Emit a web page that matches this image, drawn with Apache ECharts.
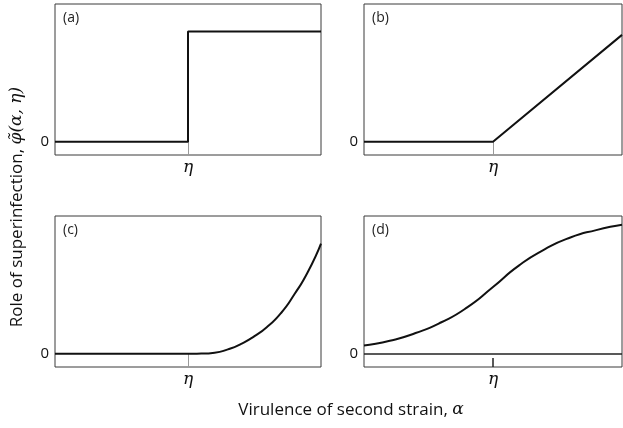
<!DOCTYPE html>
<html>
<head>
<meta charset="utf-8">
<script src="https://cdn.jsdelivr.net/npm/echarts@6/dist/echarts.min.js"></script>
<style>
html, body { margin: 0; padding: 0; background: #fff; }
#chart { width: 623px; height: 428px; }
</style>
</head>
<body>
<div id="chart"></div>
<script>
// curves, x in [0,1] with eta at 0.5, y in units of the step height
var etaValue = 0.5;
var panelA = [[0, 0], [0.5, 0], [0.5, 1.0], [1, 1.0]];
var panelB = [[0, 0], [0.5, 0], [1, 0.97]];
var panelC = [[0, 0], [0.5, 0], [0.55, 0.002], [0.6, 0.01], [0.65, 0.04], [0.7, 0.09], [0.75, 0.16],
	[0.8, 0.25], [0.85, 0.37], [0.9, 0.54], [0.95, 0.74], [1, 1.0]];
var panelD = [[0, 0.075], [0.1, 0.118], [0.2, 0.188], [0.3, 0.286], [0.4, 0.421], [0.5, 0.606],
	[0.6, 0.8], [0.7, 0.947], [0.8, 1.055], [0.9, 1.122], [1, 1.17]];
var panelNames = ['(a)', '(b)', '(c)', '(d)'];
var xTickLabel = 'η';
var yTickLabel = '0';
var yTitle = 'Role of superinfection, ';
var xTitle = 'Virulence of second strain, ';

var myChart = echarts.init(document.getElementById('chart'));

var grids = [
	{ left: 55, top: 4, width: 266, height: 151 },
	{ left: 364, top: 4, width: 258, height: 151 },
	{ left: 55, top: 216, width: 266, height: 151 },
	{ left: 364, top: 216, width: 258, height: 151 }
];
var curves = [panelA, panelB, panelC, panelD];

var option = {
	backgroundColor: '#fff',
	animation: false,
	grid: [],
	xAxis: [],
	yAxis: [],
	series: [],
	graphic: []
};

grids.forEach(function (g, i) {
	option.grid.push({
		left: g.left, top: g.top, width: g.width, height: g.height,
		show: true, borderColor: '#3a3a3a', borderWidth: 1
	});
	option.xAxis.push({
		type: 'value', gridIndex: i, min: 0, max: 1,
		axisLine: { show: false, onZero: false },
		splitLine: { show: false },
		axisTick: {
			show: true, inside: true, customValues: [etaValue],
			length: i === 3 ? 9 : 13,
			lineStyle: { color: i === 3 ? '#222' : '#999', width: i === 3 ? 1.5 : 1 }
		},
		axisLabel: {
			customValues: [etaValue], margin: 4,
			formatter: function () { return xTickLabel; },
			fontFamily: 'DejaVu Serif', fontStyle: 'italic', fontSize: 17, color: '#111'
		}
	});
	option.yAxis.push({
		type: 'value', gridIndex: i, min: -0.12, max: 1.25,
		axisLine: { show: false },
		splitLine: { show: false },
		axisTick: { show: false },
		axisLabel: {
			customValues: [0], margin: 6,
			formatter: function () { return yTickLabel; },
			fontFamily: 'Open Sans', fontSize: 15, color: '#111'
		}
	});
	var s = {
		type: 'line', xAxisIndex: i, yAxisIndex: i,
		data: curves[i], showSymbol: false, symbol: 'none',
		smooth: i >= 2 ? 0.6 : false,
		lineStyle: { color: '#111', width: 2 }
	};
	if (i === 3) {
		s.markLine = {
			silent: true, symbol: 'none', label: { show: false },
			lineStyle: { color: '#222', width: 1.5, type: 'solid' },
			data: [{ yAxis: 0 }]
		};
	}
	option.series.push(s);
	option.graphic.push({
		type: 'text', left: g.left + 8, top: g.top + 7,
		style: { text: panelNames[i], fontFamily: 'Open Sans', fontSize: 14, fill: '#222' }
	});
});

option.graphic.push({
	type: 'text', x: 17, y: 207, rotation: Math.PI / 2,
	style: {
		text: '{a|' + yTitle + '}{b|φ̃(α, η)}',
		align: 'center', verticalAlign: 'middle',
		rich: {
			a: { fontFamily: 'Open Sans', fontSize: 17, fill: '#111' },
			b: { fontFamily: 'DejaVu Serif', fontStyle: 'italic', fontSize: 17, fill: '#111' }
		}
	}
});
option.graphic.push({
	type: 'text', x: 351, y: 410,
	style: {
		text: '{a|' + xTitle + '}{b|α}',
		align: 'center', verticalAlign: 'middle',
		rich: {
			a: { fontFamily: 'Open Sans', fontSize: 17, fill: '#111' },
			b: { fontFamily: 'DejaVu Serif', fontStyle: 'italic', fontSize: 17, fill: '#111' }
		}
	}
});

myChart.setOption(option);
</script>
</body>
</html>
